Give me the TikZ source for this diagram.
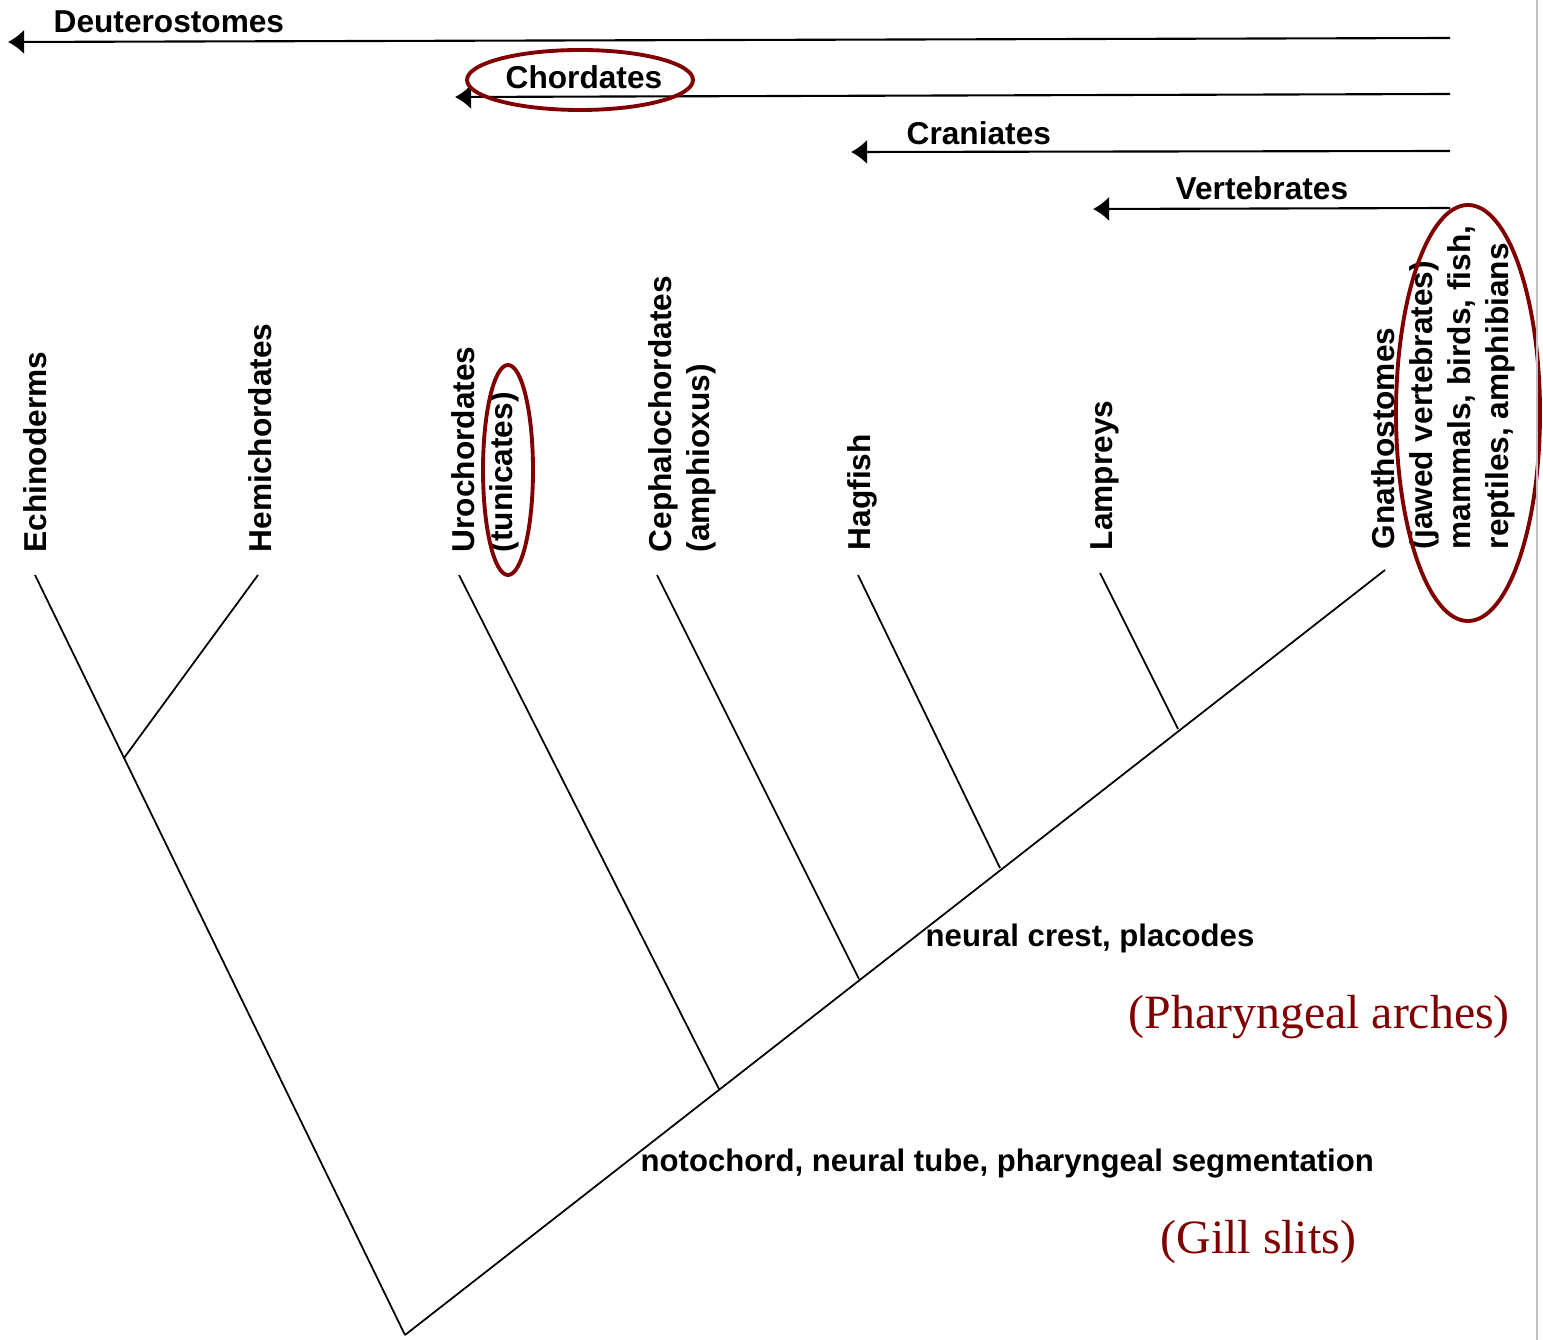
\documentclass[tikz,border=0pt]{standalone}
\usepackage{fontspec}
\setmainfont{Liberation Sans}
\newfontfamily\redfont{Liberation Serif}
\usetikzlibrary{arrows.meta}
\definecolor{darkred}{RGB}{128,0,0}

\begin{document}
\begin{tikzpicture}[x=0.01cm, y=-0.01cm,
        tree/.style={line width=0.5pt},
        clade/.style={line width=0.6pt, -{Latex[length=4.6pt, width=7pt]}},
        taxon/.style={rotate=90, anchor=north west, inner sep=0pt, align=left,
            font=\fontsize{9}{10.8}\selectfont\bfseries},
        group/.style={anchor=base west, inner sep=0pt, font=\fontsize{9}{11}\selectfont\bfseries},
        trait/.style={anchor=base west, inner sep=0pt, font=\fontsize{8.85}{11}\selectfont\bfseries},
        ring/.style={draw=darkred, line width=1.1pt},
        note/.style={anchor=base west, inner sep=0pt, text=darkred,
            font=\fontsize{13.6}{16}\redfont}]

        \useasboundingbox (0,0) rectangle (1543,1340);

        % Clade arrows
        \coordinate (deuR) at (1450,38);  \coordinate (deuL) at (8,42);
        \coordinate (chorR) at (1450,94); \coordinate (chorL) at (455,97);
        \coordinate (cranR) at (1450,151); \coordinate (cranL) at (851,152);
        \coordinate (vertR) at (1450,208); \coordinate (vertL) at (1093,209);

        \draw[clade] (deuR) -- (deuL);
        \draw[clade] (chorR) -- (chorL);
        \draw[clade] (cranR) -- (cranL);
        \draw[clade] (vertR) -- (vertL);

        \node[group] (deu) at (53,33) {Deuterostomes};
        \node[group] (chor) at (505,89) {Chordates};
        \node[group] (cran) at (906,145) {Craniates};
        \node[group] (vert) at (1175,200) {Vertebrates};

        % Tree
        \coordinate (root) at (405,1335);
        \coordinate (echinoTip) at (35,575);
        \coordinate (hemiTip) at (258,575);
        \coordinate (uroTip) at (459,575);
        \coordinate (cephTip) at (657,575);
        \coordinate (hagTip) at (858,575);
        \coordinate (lampTip) at (1100,573);
        \coordinate (gnathTip) at (1385,570);

        \coordinate (echinoJoin) at (124,758);
        \coordinate (uroJoin) at (719,1089);
        \coordinate (cephJoin) at (859,979);
        \coordinate (hagJoin) at (1000,868);
        \coordinate (lampJoin) at (1178,729);

        \draw[tree] (root) -- (echinoTip);
        \draw[tree] (echinoJoin) -- (hemiTip);
        \draw[tree] (root) -- (gnathTip);
        \draw[tree] (uroJoin) -- (uroTip);
        \draw[tree] (cephJoin) -- (cephTip);
        \draw[tree] (hagJoin) -- (hagTip);
        \draw[tree] (lampJoin) -- (lampTip);

        % Taxa
        \node[taxon] (echino) at (23,553) {Echinoderms};
        \node[taxon] (hemi) at (248,553) {Hemichordates};
        \node[taxon] (uro) at (451,553) {Urochordates\\(tunicates)};
        \node[taxon] (ceph) at (648,553) {Cephalochordates\\(amphioxus)};
        \node[taxon] (hag) at (847,551) {Hagfish};
        \node[taxon] (lamp) at (1090,551) {Lampreys};
        \node[taxon] (gnath) at (1371,550) {Gnathostomes\\(jawed vertebrates)\\mammals, birds, fish,\\reptiles, amphibians};

        % Characters
        \node[trait] (crest) at (925,946) {neural crest, placodes};
        \node[trait] (noto) at (640,1171) {notochord, neural tube, pharyngeal segmentation};
        \node[note] (arches) at (1128,1028) {(Pharyngeal arches)};
        \node[note] (gills) at (1160,1253) {(Gill slits)};

        % Highlights
        \draw[ring] (580,80) ellipse [x radius=113, y radius=30];
        \draw[ring] (508,470) ellipse [x radius=25, y radius=105];
        \draw[ring] (1468,413) ellipse [x radius=72, y radius=208];

        \draw[black!25, line width=0.6pt] (1537,0) -- (1537,1340);
    \end{tikzpicture}
\end{document}
